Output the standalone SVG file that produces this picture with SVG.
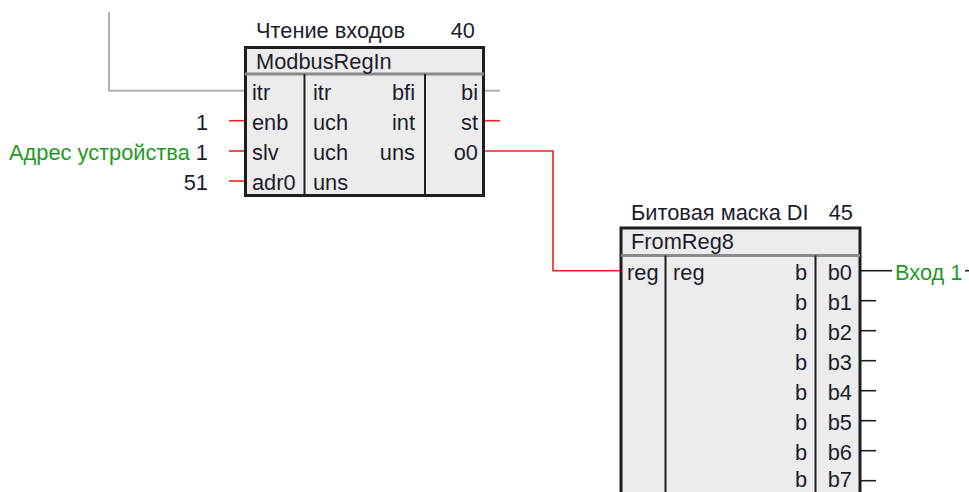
<svg xmlns="http://www.w3.org/2000/svg" width="969" height="492" viewBox="0 0 969 492">
<style>
text{font-family:"Liberation Sans",Arial,sans-serif;font-size:21.8px;fill:#1c1c2c}
.r{text-anchor:end}
.g{fill:#1f9a1f}
.box{fill:#ececec;stroke:#1e1e1e;stroke-width:3}
.sep{stroke:#8a8a8a;stroke-width:3}
.div{stroke:#1e1e1e;stroke-width:2}
.red{stroke:#f02020;stroke-width:1.6;fill:none}
.gry{stroke:#b0b0b0;stroke-width:2;fill:none}
.blk{stroke:#1e1e1e;stroke-width:1.6;fill:none}
</style>
<g id="connectors">
<polyline class="gry" points="109,12 109,90.7 244,90.7"/>
<line class="gry" x1="485" y1="90.7" x2="500" y2="90.7"/>
<line class="red" x1="229" y1="120.7" x2="244" y2="120.7"/>
<line class="red" x1="229" y1="151" x2="244" y2="151"/>
<line class="red" x1="229" y1="181" x2="244" y2="181"/>
<line class="red" x1="485" y1="120.7" x2="500" y2="120.7"/>
<polyline class="red" points="485,151 553,151 553,270.7 620,270.7"/>
<line class="blk" x1="861" y1="270.7" x2="892" y2="270.7"/>
<line class="blk" x1="965" y1="270.7" x2="969" y2="270.7"/>
<line class="blk" x1="861" y1="300.7" x2="876" y2="300.7"/>
<line class="blk" x1="861" y1="330.7" x2="876" y2="330.7"/>
<line class="blk" x1="861" y1="360.7" x2="876" y2="360.7"/>
<line class="blk" x1="861" y1="390.7" x2="876" y2="390.7"/>
<line class="blk" x1="861" y1="420.7" x2="876" y2="420.7"/>
<line class="blk" x1="861" y1="450.7" x2="876" y2="450.7"/>
<line class="blk" x1="861" y1="480.7" x2="876" y2="480.7"/>
<text class="r" x="208" y="130">1</text>
<text class="r" x="208" y="160"><tspan class="g">Адрес устройства</tspan> 1</text>
<text class="r" x="208" y="190">51</text>
<text class="g" x="895" y="280">Вход 1</text>
</g>
<g id="node40">
<text x="256" y="38">Чтение входов</text>
<text class="r" x="475" y="38">40</text>
<rect class="box" x="245.5" y="47.5" width="238" height="148"/>
<line class="sep" x1="245" y1="74" x2="484" y2="74"/>
<line class="div" x1="304.5" y1="74" x2="304.5" y2="196"/>
<line class="div" x1="425" y1="74" x2="425" y2="196"/>
<text x="256" y="69">ModbusRegIn</text>
<text x="252" y="100">itr</text>
<text x="252" y="130">enb</text>
<text x="252" y="160">slv</text>
<text x="252" y="190">adr0</text>
<text x="313" y="100">itr</text>
<text x="313" y="130">uch</text>
<text x="313" y="160">uch</text>
<text x="313" y="190">uns</text>
<text class="r" x="415" y="100">bfi</text>
<text class="r" x="415" y="130">int</text>
<text class="r" x="415" y="160">uns</text>
<text class="r" x="478" y="100">bi</text>
<text class="r" x="478" y="130">st</text>
<text class="r" x="478" y="160">o0</text>
</g>
<g id="node45">
<text x="631" y="220">Битовая маска DI</text>
<text class="r" x="853" y="220">45</text>
<rect class="box" x="621" y="228" width="239" height="300"/>
<line class="sep" x1="621" y1="255.5" x2="860" y2="255.5"/>
<line class="div" x1="665.5" y1="255.5" x2="665.5" y2="528"/>
<line class="div" x1="815.5" y1="255.5" x2="815.5" y2="528"/>
<text x="631" y="249">FromReg8</text>
<text x="627" y="280">reg</text>
<text x="673" y="280">reg</text>
<text class="r" x="807" y="280">b</text>
<text class="r" x="807" y="310">b</text>
<text class="r" x="807" y="340">b</text>
<text class="r" x="807" y="370">b</text>
<text class="r" x="807" y="400">b</text>
<text class="r" x="807" y="430">b</text>
<text class="r" x="807" y="460">b</text>
<text class="r" x="807" y="487">b</text>
<text class="r" x="852" y="280">b0</text>
<text class="r" x="852" y="310">b1</text>
<text class="r" x="852" y="340">b2</text>
<text class="r" x="852" y="370">b3</text>
<text class="r" x="852" y="400">b4</text>
<text class="r" x="852" y="430">b5</text>
<text class="r" x="852" y="460">b6</text>
<text class="r" x="852" y="487">b7</text>
</g>
</svg>
